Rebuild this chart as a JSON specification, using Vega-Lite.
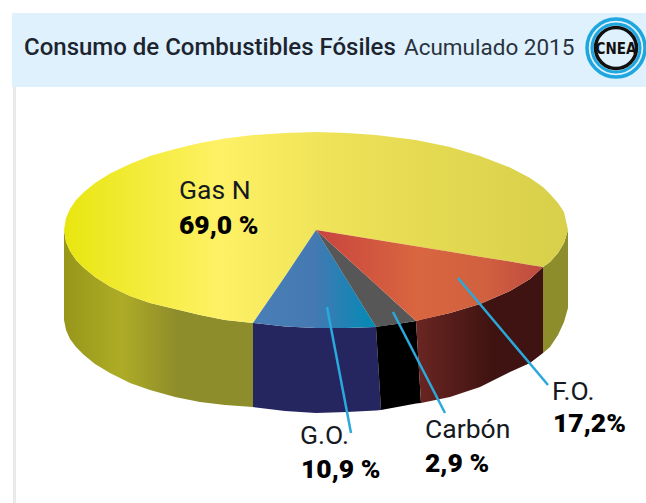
{
"$schema":"https://vega.github.io/schema/vega-lite/v6.json",
"width":646,"height":503,"padding":0,"autosize":"none","background":"white",
"config":{"view":{"stroke":null},"axis":{"domain":false}},
"datasets":{
"slices":[{"combustible":"Gas N","porcentaje":"69,0 %"},{"combustible":"F.O.","porcentaje":"17,2%"},{"combustible":"Carbón","porcentaje":"2,9 %"},{"combustible":"G.O.","porcentaje":"10,9 %"}],
"pie":[
{"p":"gasTop","x":64,"y":230,"y2":230},{"p":"gasTop","x":66,"y":218,"y2":242},{"p":"gasTop","x":70,"y":209,"y2":251},{"p":"gasTop","x":76,"y":200,"y2":260},{"p":"gasTop","x":84,"y":192,"y2":268},{"p":"gasTop","x":95,"y":183,"y2":277},{"p":"gasTop","x":110,"y":173.5,"y2":286.5},{"p":"gasTop","x":130,"y":164,"y2":296},{"p":"gasTop","x":150,"y":156,"y2":303},{"p":"gasTop","x":175,"y":149,"y2":309},{"p":"gasTop","x":200,"y":143,"y2":315},{"p":"gasTop","x":225,"y":138.6,"y2":320},{"p":"gasTop","x":253,"y":135,"y2":323},{"p":"gasTop","x":285,"y":133,"y2":276.4},{"p":"gasTop","x":316,"y":132,"y2":230},{"p":"gasTop","x":347,"y":133,"y2":235},{"p":"gasTop","x":376,"y":135,"y2":239.8},{"p":"gasTop","x":416,"y":140,"y2":246.3},{"p":"gasTop","x":450,"y":147,"y2":251.8},{"p":"gasTop","x":480,"y":156,"y2":256.7},{"p":"gasTop","x":510,"y":167.5,"y2":261.6},{"p":"gasTop","x":530,"y":178,"y2":264.9},{"p":"gasTop","x":543,"y":187,"y2":267},{"p":"gasTop","x":550,"y":194,"y2":262},{"p":"gasTop","x":558,"y":203,"y2":253},{"p":"gasTop","x":564,"y":212,"y2":243},{"p":"gasTop","x":568,"y":230,"y2":230},
{"p":"gasWallL","x":64,"y":230,"y2":320},{"p":"gasWallL","x":66,"y":242,"y2":330},{"p":"gasWallL","x":70,"y":251,"y2":339},{"p":"gasWallL","x":76,"y":260,"y2":347},{"p":"gasWallL","x":84,"y":268,"y2":355},{"p":"gasWallL","x":95,"y":277,"y2":364},{"p":"gasWallL","x":110,"y":286.5,"y2":373},{"p":"gasWallL","x":130,"y":296,"y2":383},{"p":"gasWallL","x":150,"y":303,"y2":390},{"p":"gasWallL","x":175,"y":309,"y2":397},{"p":"gasWallL","x":200,"y":315,"y2":402},{"p":"gasWallL","x":225,"y":320,"y2":405},{"p":"gasWallL","x":253,"y":323,"y2":407},
{"p":"gasWallR","x":543,"y":267,"y2":353},{"p":"gasWallR","x":550,"y":262,"y2":347},{"p":"gasWallR","x":558,"y":253,"y2":335},{"p":"gasWallR","x":564,"y":243,"y2":322},{"p":"gasWallR","x":568,"y":230,"y2":308},
{"p":"goTop","x":253,"y":323,"y2":323},{"p":"goTop","x":285,"y":276.4,"y2":326.5},{"p":"goTop","x":316,"y":230,"y2":328},{"p":"goTop","x":347,"y":280,"y2":328},{"p":"goTop","x":376,"y":327,"y2":327},
{"p":"goWall","x":253,"y":323,"y2":407},{"p":"goWall","x":285,"y":326.5,"y2":411},{"p":"goWall","x":316,"y":328,"y2":413},{"p":"goWall","x":347,"y":328,"y2":412},{"p":"goWall","x":376,"y":327,"y2":410.5},{"p":"goWall","x":381,"y":410,"y2":410},
{"p":"carbonTop","x":316,"y":230,"y2":230},{"p":"carbonTop","x":376,"y":284.6,"y2":327},{"p":"carbonTop","x":400,"y":306.4,"y2":323.5},{"p":"carbonTop","x":416,"y":321,"y2":321},
{"p":"carbonWall","x":376,"y":327,"y2":327},{"p":"carbonWall","x":381,"y":326,"y2":410},{"p":"carbonWall","x":400,"y":323.5,"y2":406.5},{"p":"carbonWall","x":416,"y":321,"y2":403.5},{"p":"carbonWall","x":421,"y":403,"y2":403},
{"p":"foTop","x":316,"y":230,"y2":230},{"p":"foTop","x":416,"y":246.3,"y2":321},{"p":"foTop","x":450,"y":251.8,"y2":313},{"p":"foTop","x":480,"y":256.7,"y2":304},{"p":"foTop","x":510,"y":261.6,"y2":291},{"p":"foTop","x":530,"y":264.9,"y2":279},{"p":"foTop","x":543,"y":267,"y2":267},
{"p":"foWall","x":416,"y":321,"y2":321},{"p":"foWall","x":421,"y":319.5,"y2":403},{"p":"foWall","x":450,"y":313,"y2":397},{"p":"foWall","x":480,"y":304,"y2":387},{"p":"foWall","x":510,"y":291,"y2":372},{"p":"foWall","x":530,"y":279,"y2":363},{"p":"foWall","x":543,"y":267,"y2":353}
],
"leaders":[
{"c":"F.O.","x":458,"y":278,"x2":548,"y2":385},
{"c":"Carbón","x":393,"y":312,"x2":445,"y2":413},
{"c":"G.O.","x":327,"y":307,"x2":351,"y2":433}
],
"names":[
{"t":"Gas N","x":179,"y":199},{"t":"F.O.","x":552,"y":400},{"t":"Carbón","x":425,"y":438},{"t":"G.O.","x":300,"y":444}
],
"shares":[
{"t":"69,0 %","x":179,"y":234},{"t":"17,2%","x":553,"y":432},{"t":"2,9 %","x":425,"y":472},{"t":"10,9 %","x":301,"y":478}
]
},
"data":{"name":"pie"},
"encoding":{
"x":{"field":"x","type":"quantitative","scale":{"domain":[0,646],"range":[0,646],"nice":false,"zero":false},"axis":null},
"y":{"field":"y","type":"quantitative","scale":{"domain":[0,503],"range":[0,503],"nice":false,"zero":false},"axis":null},
"y2":{"field":"y2"}
},
"layer":[
{"data":{"values":[{"a":12,"b":646,"c":13,"d":87}]},"mark":{"type":"rect","color":"#dff1fc"},"encoding":{"x":{"field":"a","type":"quantitative"},"x2":{"field":"b"},"y":{"field":"c","type":"quantitative"},"y2":{"field":"d"}}},
{"data":{"values":[{"a":13,"b":16,"c":87,"d":503}]},"mark":{"type":"rect","color":"#e9e9e9"},"encoding":{"x":{"field":"a","type":"quantitative"},"x2":{"field":"b"},"y":{"field":"c","type":"quantitative"},"y2":{"field":"d"}}},
{"transform":[{"filter":"datum.p==='gasWallL'"}],"mark":{"type":"area","color":{"gradient":"linear","stops":[{"offset":0,"color":"#96961a"},{"offset":0.3,"color":"#aeac26"},{"offset":0.6,"color":"#8e8d2b"},{"offset":1,"color":"#8e8d2b"}]}}},
{"transform":[{"filter":"datum.p==='gasWallR'"}],"mark":{"type":"area","color":"#8e8d2b"}},
{"transform":[{"filter":"datum.p==='gasTop'"}],"mark":{"type":"area","color":{"gradient":"linear","stops":[{"offset":0,"color":"#e8e610"},{"offset":0.31,"color":"#fff166"},{"offset":0.55,"color":"#ece157"},{"offset":1,"color":"#d8cf4a"}]}}},
{"transform":[{"filter":"datum.p==='goWall'"}],"mark":{"type":"area","color":"#252660"}},
{"transform":[{"filter":"datum.p==='carbonWall'"}],"mark":{"type":"area","color":"#000000"}},
{"transform":[{"filter":"datum.p==='foWall'"}],"mark":{"type":"area","color":{"gradient":"linear","stops":[{"offset":0,"color":"#6a2622"},{"offset":0.6,"color":"#3f1311"},{"offset":1,"color":"#3f1311"}]}}},
{"transform":[{"filter":"datum.p==='goTop'"}],"mark":{"type":"area","color":{"gradient":"linear","stops":[{"offset":0,"color":"#4a7eb6"},{"offset":0.5,"color":"#4479b2"},{"offset":1,"color":"#008bb6"}]}}},
{"transform":[{"filter":"datum.p==='carbonTop'"}],"mark":{"type":"area","color":"#575757"}},
{"transform":[{"filter":"datum.p==='foTop'"}],"mark":{"type":"area","color":{"gradient":"linear","stops":[{"offset":0,"color":"#c8443e"},{"offset":0.45,"color":"#d9663f"},{"offset":0.75,"color":"#d0603f"},{"offset":1,"color":"#bf4a40"}]}}},
{"data":{"name":"leaders"},"mark":{"type":"rule","color":"#2ba8dc","strokeWidth":2.5},"encoding":{"x":{"field":"x","type":"quantitative"},"y":{"field":"y","type":"quantitative"},"x2":{"field":"x2"},"y2":{"field":"y2"}}},
{"data":{"name":"names"},"mark":{"type":"text","align":"left","baseline":"alphabetic","font":"Roboto","fontSize":26.5,"fontWeight":400,"color":"#151a22"},"encoding":{"x":{"field":"x","type":"quantitative"},"y":{"field":"y","type":"quantitative"},"y2":null,"text":{"field":"t"}}},
{"data":{"name":"shares"},"mark":{"type":"text","align":"left","baseline":"alphabetic","font":"Roboto","fontSize":26.5,"fontWeight":900,"color":"#000000"},"encoding":{"x":{"field":"x","type":"quantitative"},"y":{"field":"y","type":"quantitative"},"y2":null,"text":{"field":"t"}}},
{"data":{"values":[{"t":"Consumo de Combustibles Fósiles","x":24,"y":55}]},"mark":{"type":"text","align":"left","baseline":"alphabetic","font":"Roboto","fontSize":24,"fontWeight":500,"color":"#1c2430"},"encoding":{"x":{"field":"x","type":"quantitative"},"y":{"field":"y","type":"quantitative"},"y2":null,"text":{"field":"t"}}},
{"data":{"values":[{"t":"Acumulado 2015","x":404,"y":55}]},"mark":{"type":"text","align":"left","baseline":"alphabetic","font":"Roboto","fontSize":22.5,"fontWeight":400,"color":"#2a3340"},"encoding":{"x":{"field":"x","type":"quantitative"},"y":{"field":"y","type":"quantitative"},"y2":null,"text":{"field":"t"}}},
{"data":{"values":[{"x":616,"y":48,"d":58,"s":3.5,"c":"#1ea6de"},{"x":616,"y":48,"d":48,"s":3,"c":"#1ea6de"},{"x":616,"y":48,"d":41,"s":3.5,"c":"#111111"}]},"mark":{"type":"point","filled":false,"opacity":1},"encoding":{"x":{"field":"x","type":"quantitative"},"y":{"field":"y","type":"quantitative"},"y2":null,"size":{"field":"d","type":"quantitative","scale":{"type":"pow","exponent":2,"domain":[0,100],"range":[0,10000]},"legend":null},"stroke":{"field":"c","type":"nominal","scale":null},"strokeWidth":{"field":"s","type":"quantitative","scale":null}}},
{"data":{"values":[{"t":"CNEA","x":616,"y":54}]},"mark":{"type":"text","align":"center","baseline":"alphabetic","font":"DejaVu Sans Condensed","fontWeight":"bold","fontSize":15,"color":"#111111"},"encoding":{"x":{"field":"x","type":"quantitative"},"y":{"field":"y","type":"quantitative"},"y2":null,"text":{"field":"t"}}}
]
}
